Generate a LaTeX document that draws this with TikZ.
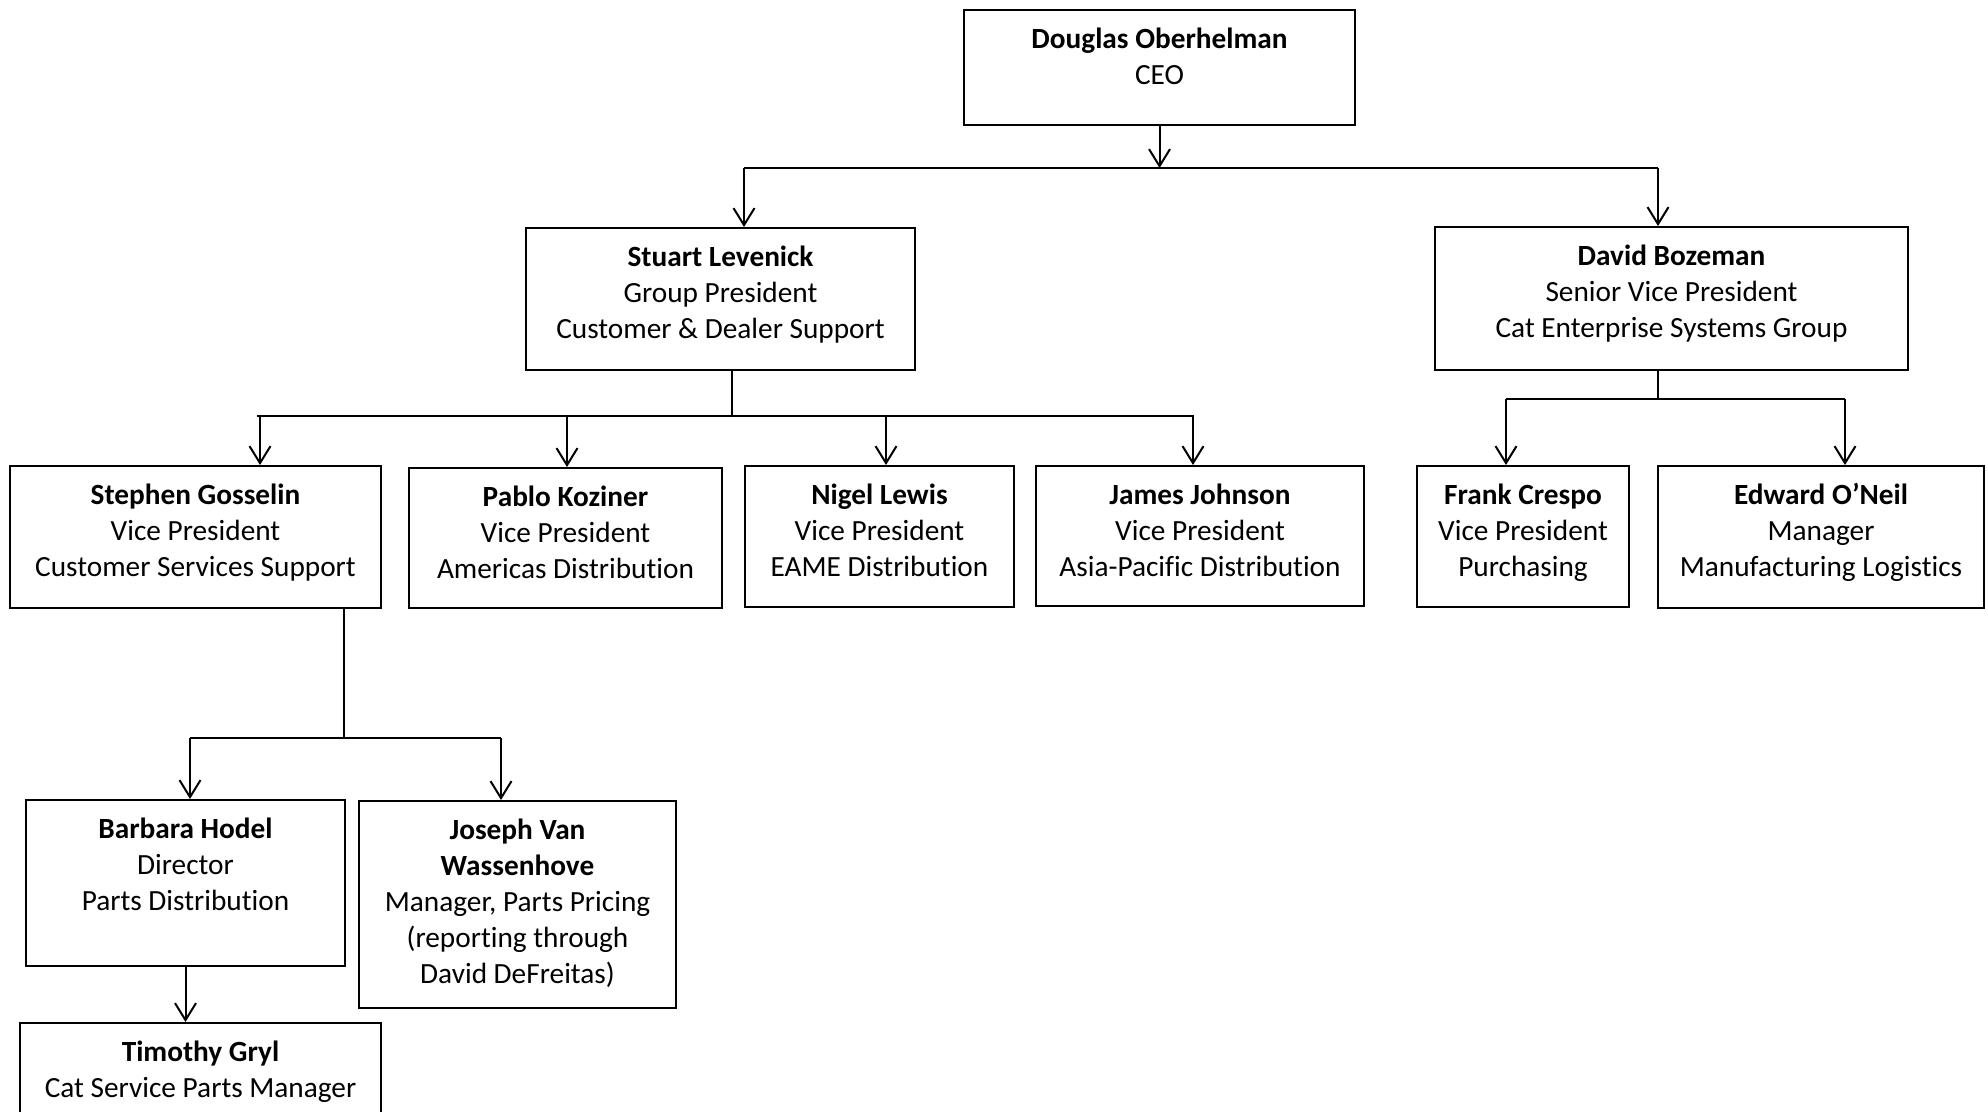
\documentclass[tikz,border=0pt]{standalone}
\usepackage{fontspec}
\setmainfont{Carlito}[Ligatures=NoCommon]
\usetikzlibrary{arrows.meta}

\tikzset{card/.style={draw, line width=2pt, inner sep=0pt, anchor=north west,
    font=\fontsize{29.3}{36}\selectfont},
  link/.style={line width=2pt},
  down/.style={line width=2pt, -{Straight Barb[length=17pt,width=21pt]}}}
\newcommand{\cardtxt}[3]{\parbox[c][#2pt][t]{#1pt}{\centering\vspace*{13pt}\strut#3}}

\begin{document}
\begin{tikzpicture}[x=1pt,y=-1pt]
\useasboundingbox (0,0) rectangle (1988,1111);
\clip (0,0) rectangle (1988,1111);
% boxes
\node[card] (ceo) at (963,9) {\cardtxt{391}{115}{\textbf{Douglas Oberhelman}\\CEO}};
\node[card] (stuart) at (525,227) {\cardtxt{389}{142}{\textbf{Stuart Levenick}\\Group President\\Customer \& Dealer Support}};
\node[card] (david) at (1434,226) {\cardtxt{473}{143}{\textbf{David Bozeman}\\Senior Vice President\\Cat Enterprise Systems Group}};
\node[card] (stephen) at (9,465) {\cardtxt{371}{142}{\textbf{Stephen Gosselin}\\Vice President\\Customer Services Support}};
\node[card] (pablo) at (408,467) {\cardtxt{313}{140}{\textbf{Pablo Koziner}\\Vice President\\Americas Distribution}};
\node[card] (nigel) at (744,465) {\cardtxt{269}{141}{\textbf{Nigel Lewis}\\Vice President\\EAME Distribution}};
\node[card] (james) at (1035,465) {\cardtxt{328}{140}{\textbf{James Johnson}\\Vice President\\Asia-Pacific Distribution}};
\node[card] (frank) at (1416,465) {\cardtxt{212}{141}{\textbf{Frank Crespo}\\Vice President\\Purchasing}};
\node[card] (edward) at (1657,465) {\cardtxt{326}{142}{\textbf{Edward O’Neil}\\Manager\\Manufacturing Logistics}};
\node[card] (barbara) at (25,799) {\cardtxt{319}{166}{\textbf{Barbara Hodel}\\Director\\Parts Distribution}};
\node[card] (joseph) at (358,800) {\cardtxt{317}{207}{\textbf{Joseph Van}\\\textbf{Wassenhove}\\Manager, Parts Pricing\\(reporting through\\David DeFreitas)}};
\node[card] (timothy) at (19,1022) {\cardtxt{361}{150}{\textbf{Timothy Gryl}\\Cat Service Parts Manager}};

% CEO to group
\coordinate (b1l) at (744,168);
\coordinate (b1r) at (1658,168);
\draw[down] (ceo.south) -- (ceo.south |- b1l);
\draw[link] (b1l) -- (b1r);
\draw[down] (b1l) -- (b1l |- stuart.north);
\draw[down] (b1r) -- (b1r |- david.north);

% Stuart to VPs
\coordinate (b2) at (731.6,416);
\draw[link] (stuart.south -| b2) -- (b2);
\draw[link] (257,416) -- (1194,416);
\foreach \x/\n in {260/stephen,567/pablo,886/nigel,1193/james}
	\draw[down] (\x,416) -- (\x,416 |- \n.north);

% David to his reports
\coordinate (b3) at (1658,399);
\draw[link] (david.south -| b3) -- (b3);
\draw[link] (1506,399) -- (1845,399);
\foreach \x/\n in {1506/frank,1845/edward}
	\draw[down] (\x,399) -- (\x,399 |- \n.north);

% Stephen to his reports
\coordinate (b4) at (343.6,738);
\draw[link] (stephen.south -| b4) -- (b4);
\draw[link] (190,738) -- (501,738);
\foreach \x/\n in {190/barbara,501/joseph}
	\draw[down] (\x,738) -- (\x,738 |- \n.north);
\draw[down] (barbara.south) -- (barbara.south |- timothy.north);
\end{tikzpicture}
\end{document}
